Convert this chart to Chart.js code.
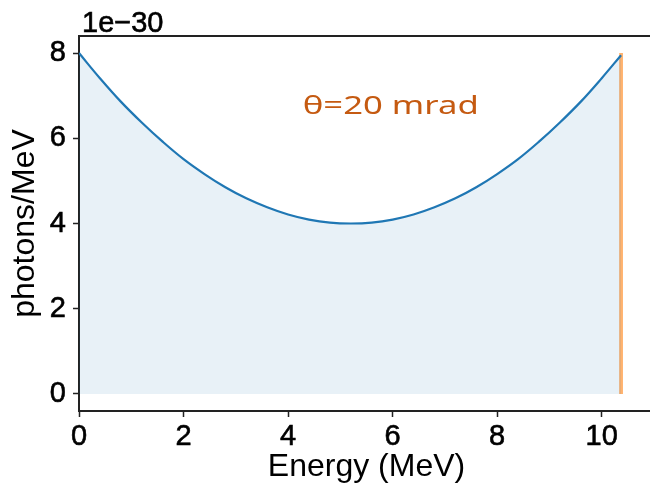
<!DOCTYPE html>
<html><head><meta charset="utf-8">
<script src="https://cdn.jsdelivr.net/npm/chart.js@4"></script>
<style>html,body{margin:0;padding:0;background:#fff;overflow:hidden;width:650px;height:494px}canvas{display:block}</style>
</head><body>
<canvas id="c" width="670" height="494"></canvas>
<script>
const energy  = [0, 0.4, 0.8, 1.2, 1.6, 2.0, 2.4, 2.8, 3.2, 3.6, 4.0, 4.4, 4.8, 5.2, 5.6, 6.0, 6.4, 6.8, 7.2, 7.6, 8.0, 8.4, 8.8, 9.2, 9.6, 10.0, 10.37];
const photons = [8.00, 7.41, 6.86, 6.37, 5.92, 5.51, 5.16, 4.85, 4.59, 4.38, 4.21, 4.09, 4.02, 4.00, 4.02, 4.09, 4.21, 4.38, 4.59, 4.85, 5.16, 5.51, 5.92, 6.37, 6.86, 7.41, 7.95];
const edgeEnergy = [10.37, 10.37];
const edgeLevel  = [0, 8.0];
const xTicks = [0, 2, 4, 6, 8, 10];
const yTicks = [0, 2, 4, 6, 8];
const exponentLabel = '1e\u221230';
const annotation = '\u03b8=20 mrad';
const annotationPos = {x: 4.28, y: 6.56};

const FONT = '"Liberation Sans", Arial, Helvetica, sans-serif';

const textPlugin = {
  id: 'texts',
  afterDraw(chart) {
    const {ctx, chartArea, scales} = chart;
    ctx.save();
    ctx.fillStyle = '#000';
    ctx.strokeStyle = '#000';
    ctx.lineWidth = 0.6;
    ctx.font = '29px ' + FONT;
    ctx.textAlign = 'left';
    ctx.textBaseline = 'alphabetic';
    ctx.fillText(exponentLabel, chartArea.left + 3, chartArea.top - 4);
    ctx.strokeText(exponentLabel, chartArea.left + 3, chartArea.top - 4);
    const ax = scales.x.getPixelForValue(annotationPos.x);
    const ay = scales.y.getPixelForValue(annotationPos.y);
    ctx.font = '26px "Noto Sans", "Open Sans", sans-serif';
    const w = ctx.measureText(annotation).width;
    ctx.translate(ax, ay);
    ctx.scale(176 / w, 1);
    ctx.fillStyle = '#c55a11';
    ctx.fillText(annotation, 0, 0);
    ctx.restore();
  }
};

const tickGrid = {display: true, drawOnChartArea: false, drawTicks: true, tickLength: 6, tickColor: '#222', tickWidth: 1.5};
const tickFont = {font: {size: 29, family: FONT}, color: '#000', textStrokeColor: '#000', textStrokeWidth: 0.6};

new Chart(document.getElementById('c'), {
  type: 'line',
  data: {
    datasets: [
      {
        data: energy.map((e, i) => ({x: e, y: photons[i]})),
        borderColor: '#1f77b4',
        borderWidth: 2.2,
        backgroundColor: 'rgba(31,119,180,0.1)',
        fill: 'origin',
        pointRadius: 0,
        tension: 0.4
      },
      {
        data: edgeEnergy.map((e, i) => ({x: e, y: edgeLevel[i]})),
        borderColor: 'rgba(255,127,14,0.6)',
        borderWidth: 3.8,
        fill: false,
        pointRadius: 0
      }
    ]
  },
  options: {
    responsive: false,
    animation: false,
    devicePixelRatio: 1,
    layout: {padding: {top: 36, right: 16, left: 0, bottom: 0}},
    plugins: {legend: {display: false}, tooltip: {enabled: false}},
    scales: {
      x: {
        type: 'linear', position: 'bottom', min: 0, max: 11,
        afterBuildTicks: s => { s.ticks = xTicks.map(v => ({value: v})); },
        afterFit: s => { s.height = 83; },
        ticks: Object.assign({padding: 3, maxRotation: 0, autoSkip: false}, tickFont),
        grid: tickGrid,
        border: {display: true, color: '#222', width: 2},
        title: {display: true, text: 'Energy (MeV)', color: '#000', font: {size: 32, family: FONT}, padding: {top: 0, bottom: 8}}
      },
      x2: {
        type: 'linear', axis: 'x', position: 'top', min: 0, max: 11,
        afterFit: s => { s.height = 0; },
        ticks: {display: false},
        grid: {display: false, drawTicks: false},
        border: {display: true, color: '#222', width: 2}
      },
      y: {
        type: 'linear', min: -0.4, max: 8.4,
        afterBuildTicks: s => { s.ticks = yTicks.map(v => ({value: v})); },
        afterFit: s => { s.width = 79; },
        ticks: Object.assign({padding: 7}, tickFont),
        grid: tickGrid,
        border: {display: true, color: '#222', width: 2},
        title: {display: true, text: 'photons/MeV', color: '#000', font: {size: 32, family: FONT}, padding: {top: 6, bottom: 0}}
      }
    }
  },
  plugins: [textPlugin]
});
</script>
</body></html>
